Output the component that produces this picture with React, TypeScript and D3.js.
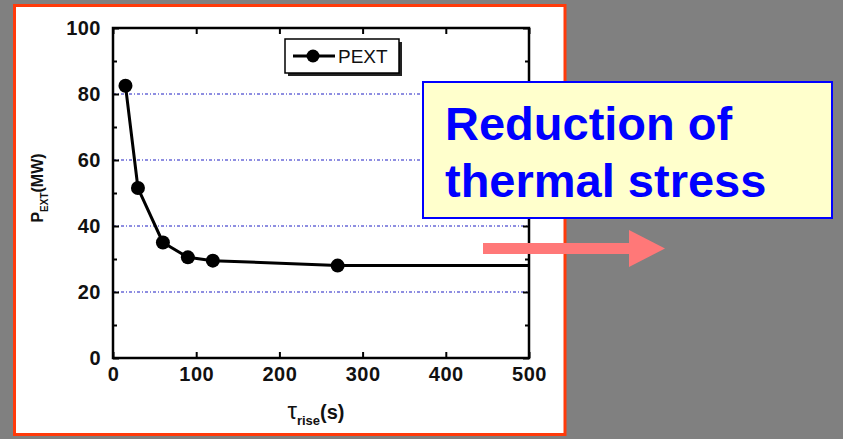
import React, { useEffect, useRef } from "react";
import * as d3 from "d3";

// rise time (s) vs extracted power (MW)
const tauRise = [15, 30, 60, 90, 120, 270, 600];
const pExt = [82.5, 51.5, 35, 30.5, 29.5, 28, 28];
const xTicks = [0, 100, 200, 300, 400, 500];
const yTicks = [0, 20, 40, 60, 80, 100];
const yMinorTicks = [10, 30, 50, 70, 90];
const gridLevels = [20, 40, 60, 80];
const seriesName = "PEXT";
const calloutLines = ["Reduction of", "thermal stress"];

const W = 843;
const H = 439;

const App = () => {
  const svgEl = useRef<SVGSVGElement>(null);

  useEffect(() => {
    const margin = { top: 28, right: 314, bottom: 81, left: 113 },
      width = W - margin.left - margin.right,
      height = H - margin.top - margin.bottom;

    const svg = d3.select(svgEl.current);
    svg.selectAll("*").remove();

    // page + framed white panel
    svg.append("rect").attr("width", W).attr("height", H).attr("fill", "#808080");
    svg
      .append("rect")
      .attr("x", 14.5)
      .attr("y", 5.5)
      .attr("width", 550.5)
      .attr("height", 429)
      .attr("fill", "#ffffff")
      .attr("stroke", "#ff3a0a")
      .attr("stroke-width", 3);

    const xScale = d3.scaleLinear().domain([0, 500]).range([0, width]);
    const yScale = d3.scaleLinear().domain([0, 100]).range([height, 0]);

    const g = svg
      .append("g")
      .attr("transform", "translate(" + margin.left + "," + margin.top + ")");

    g.append("clipPath")
      .attr("id", "plot-clip")
      .append("rect")
      .attr("width", width)
      .attr("height", height);

    // dotted grid
    g.selectAll(".grid")
      .data(gridLevels)
      .enter()
      .append("line")
      .attr("x1", 0)
      .attr("x2", width)
      .attr("y1", (d) => yScale(d))
      .attr("y2", (d) => yScale(d))
      .attr("stroke", "#6a6ad8")
      .attr("stroke-width", 1.3)
      .attr("stroke-dasharray", "3,2,1,2");

    const font = "'Liberation Sans', Arial, Helvetica, sans-serif";

    const styleAxis = (sel: any) => {
      sel.select(".domain").remove();
      sel.selectAll(".tick line").attr("stroke", "#000").attr("stroke-width", 2);
      sel
        .selectAll(".tick text")
        .attr("fill", "#111")
        .style("font-family", font)
        .style("font-size", "20px")
        .style("font-weight", "bold")
        .style("letter-spacing", "0.5px");
    };

    g.append("g")
      .attr("transform", "translate(0," + height + ")")
      .call(d3.axisBottom(xScale).tickValues(xTicks).tickSizeInner(-6).tickSizeOuter(0).tickPadding(9))
      .call(styleAxis);
    g.append("g")
      .call(d3.axisTop(xScale).tickValues(xTicks).tickSizeInner(-6).tickSizeOuter(0).tickFormat(() => ""))
      .call(styleAxis);
    g.append("g")
      .call(d3.axisLeft(yScale).tickValues(yTicks).tickSizeInner(-6).tickSizeOuter(0).tickPadding(12))
      .call(styleAxis);
    g.append("g")
      .attr("transform", "translate(" + width + ",0)")
      .call(d3.axisRight(yScale).tickValues(yTicks).tickSizeInner(-6).tickSizeOuter(0).tickFormat(() => ""))
      .call(styleAxis);
    g.append("g")
      .call(d3.axisLeft(yScale).tickValues(yMinorTicks).tickSizeInner(-4).tickSizeOuter(0).tickFormat(() => ""))
      .call(styleAxis);
    g.append("g")
      .attr("transform", "translate(" + width + ",0)")
      .call(d3.axisRight(yScale).tickValues(yMinorTicks).tickSizeInner(-4).tickSizeOuter(0).tickFormat(() => ""))
      .call(styleAxis);

    // frame
    g.append("rect")
      .attr("width", width)
      .attr("height", height)
      .attr("fill", "none")
      .attr("stroke", "#000")
      .attr("stroke-width", 2.5);

    const dataset = tauRise.map((t, i) => ({ x: t, y: pExt[i] }));

    const line = d3
      .line<{ x: number; y: number }>()
      .x((d) => xScale(d.x))
      .y((d) => yScale(d.y));

    const plot = g.append("g").attr("clip-path", "url(#plot-clip)");
    plot
      .append("path")
      .datum(dataset)
      .attr("d", line)
      .attr("fill", "none")
      .attr("stroke", "#000")
      .attr("stroke-width", 3)
      .attr("stroke-linejoin", "round");
    plot
      .selectAll(".dot")
      .data(dataset)
      .enter()
      .append("circle")
      .attr("cx", (d) => xScale(d.x))
      .attr("cy", (d) => yScale(d.y))
      .attr("r", 7)
      .attr("fill", "#000");

    // legend
    const lg = svg.append("g").attr("transform", "translate(285,39)");
    lg.append("rect").attr("x", 3).attr("y", 3).attr("width", 114).attr("height", 34).attr("fill", "#222");
    lg.append("rect")
      .attr("width", 114)
      .attr("height", 34)
      .attr("fill", "#fff")
      .attr("stroke", "#000")
      .attr("stroke-width", 1.5);
    lg.append("line").attr("x1", 8).attr("x2", 50).attr("y1", 17).attr("y2", 17).attr("stroke", "#000").attr("stroke-width", 3);
    lg.append("circle").attr("cx", 28).attr("cy", 17).attr("r", 6.5).attr("fill", "#000");
    lg.append("text")
      .attr("x", 53)
      .attr("y", 23.5)
      .attr("fill", "#111")
      .style("font-family", font)
      .style("font-size", "19px")
      .text(seriesName);

    // y axis title
    const yt = svg
      .append("text")
      .attr("transform", "translate(43,188) rotate(-90)")
      .attr("text-anchor", "middle")
      .attr("fill", "#111")
      .style("font-family", font)
      .style("font-size", "16px")
      .style("font-weight", "bold");
    yt.append("tspan").text("P");
    yt.append("tspan").attr("dy", 5).style("font-size", "10px").text("EXT");
    yt.append("tspan").attr("dy", -5).text("(MW)");

    // x axis title
    const xt = svg
      .append("text")
      .attr("x", 316)
      .attr("y", 419)
      .attr("text-anchor", "middle")
      .attr("fill", "#111")
      .style("font-family", font)
      .style("font-size", "20px")
      .style("font-weight", "bold");
    xt.append("tspan").style("font-weight", "normal").style("font-size", "24px").text("τ");
    xt.append("tspan").attr("dy", 6).style("font-size", "13px").text("rise");
    xt.append("tspan").attr("dy", -6).text("(s)");

    // callout box
    svg
      .append("rect")
      .attr("x", 423)
      .attr("y", 82)
      .attr("width", 409)
      .attr("height", 136)
      .attr("fill", "#ffffcc")
      .attr("stroke", "#0000ff")
      .attr("stroke-width", 2);
    svg
      .selectAll(".callout")
      .data(calloutLines)
      .enter()
      .append("text")
      .attr("x", 445)
      .attr("y", (d, i) => 140 + i * 57)
      .attr("fill", "#0000ff")
      .style("font-family", font)
      .style("font-size", "47px")
      .style("font-weight", "bold")
      .text((d) => d);

    // arrow
    svg
      .append("path")
      .attr("d", "M483,243 L629,243 L629,230 L665,248.5 L629,267 L629,254 L483,254 Z")
      .attr("fill", "#ff7878");
  }, [svgEl]);

  return (
    <svg
      ref={svgEl}
      width={W}
      height={H}
      style={{ position: "absolute", left: 0, top: 0, display: "block" }}
    ></svg>
  );
};

export default App;
